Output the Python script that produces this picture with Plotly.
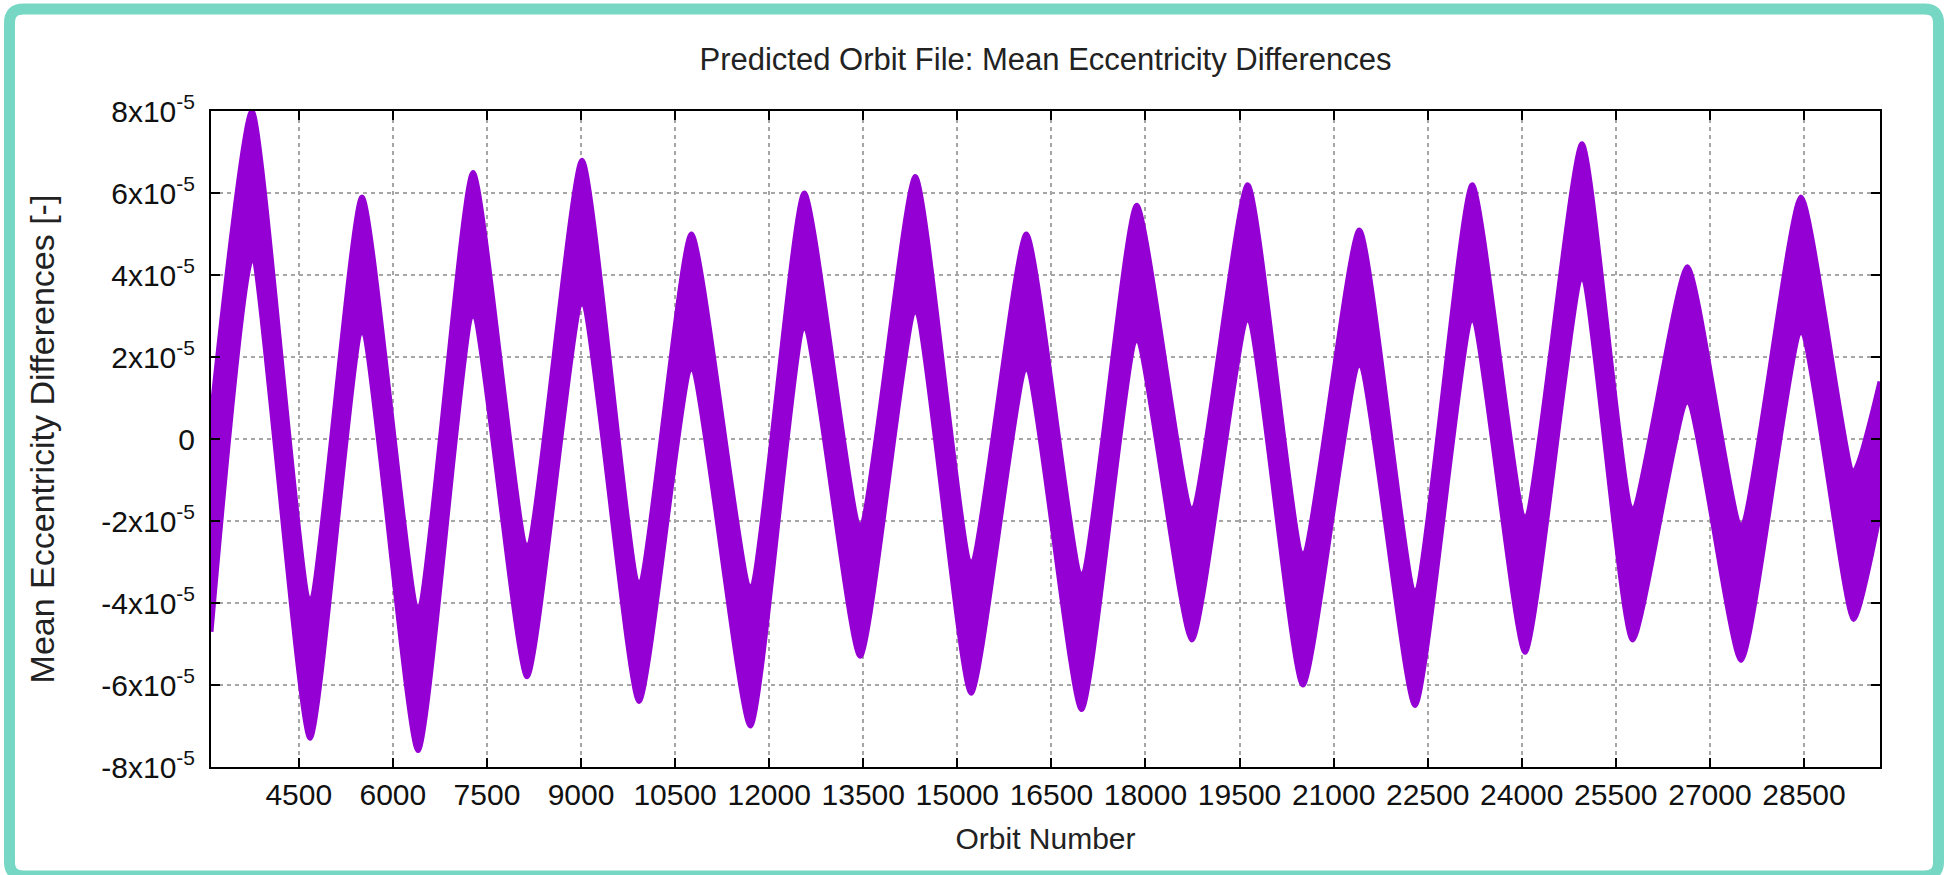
import plotly.graph_objects as go

# ---- data (orbit number, band envelopes in units of 1e-5) ----
orbit = [3100, 3754, 4679, 5508, 6401, 7278, 8139, 9016, 9925, 10760, 11700, 12560,
         13450, 14330, 15220, 16100, 16980, 17860, 18740, 19630, 20510, 21410, 22298,
         23210, 24052, 24960, 25767, 26640, 27497, 28453, 29290, 29712]
upper_e5 = [0.5, 8.0, -3.9, 5.9, -4.1, 6.5, -2.6, 6.8, -3.5, 5.0, -3.6, 6.0,
            -2.1, 6.4, -3.0, 5.0, -3.3, 5.7, -1.7, 6.2, -2.8, 5.1, -3.7,
            6.2, -1.9, 7.2, -1.7, 4.2, -2.1, 5.9, -0.8, 1.4]
lower_e5 = [-4.7, 4.4, -7.3, 2.6, -7.6, 3.0, -5.8, 3.3, -6.4, 1.7, -7.0, 2.7,
            -5.3, 3.1, -6.2, 1.7, -6.6, 2.4, -4.9, 2.9, -6.0, 1.8, -6.5,
            2.9, -5.2, 3.9, -4.9, 0.9, -5.4, 2.6, -4.4, -1.8]

x_ticks = [4500, 6000, 7500, 9000, 10500, 12000, 13500, 15000, 16500, 18000,
           19500, 21000, 22500, 24000, 25500, 27000, 28500]
y_ticks = [-8e-5, -6e-5, -4e-5, -2e-5, 0, 2e-5, 4e-5, 6e-5, 8e-5]
y_ticktext = ["-8x10<sup>-5</sup>", "-6x10<sup>-5</sup>", "-4x10<sup>-5</sup>",
              "-2x10<sup>-5</sup>", "0", "2x10<sup>-5</sup>", "4x10<sup>-5</sup>",
              "6x10<sup>-5</sup>", "8x10<sup>-5</sup>"]
x_range = [3100, 29712]
y_range = [-8e-5, 8e-5]

PURPLE = "#9400D3"
TEAL = "#76D7C4"
FONT = "Liberation Sans, Arial, sans-serif"

W, H = 1947, 875
L, R, T, B = 211, 1880, 111, 767

upper = [v * 1e-5 for v in upper_e5]
lower = [v * 1e-5 for v in lower_e5]

fig = go.Figure()
fig.add_trace(go.Scatter(x=orbit, y=lower, mode="lines",
                         line=dict(color=PURPLE, width=5, shape="spline", smoothing=0.55),
                         showlegend=False, hoverinfo="skip"))
fig.add_trace(go.Scatter(x=orbit, y=upper, mode="lines", fill="tonexty",
                         fillcolor=PURPLE,
                         line=dict(color=PURPLE, width=5, shape="spline", smoothing=0.55),
                         showlegend=False, name="Mean Eccentricity Differences"))

# teal rounded frame around the whole picture (pixel -> paper conversion)
def px(xp):
    return (xp - L) / (R - L)

def py(yp):
    return (B - yp) / (B - T)

x0, x1, y0, y1, r = 9.5, 1938.5, 9.0, 876.0, 14
path = (f"M {px(x0 + r)},{py(y0)} L {px(x1 - r)},{py(y0)} "
        f"Q {px(x1)},{py(y0)} {px(x1)},{py(y0 + r)} "
        f"L {px(x1)},{py(y1 - r)} Q {px(x1)},{py(y1)} {px(x1 - r)},{py(y1)} "
        f"L {px(x0 + r)},{py(y1)} Q {px(x0)},{py(y1)} {px(x0)},{py(y1 - r)} "
        f"L {px(x0)},{py(y0 + r)} Q {px(x0)},{py(y0)} {px(x0 + r)},{py(y0)} Z")
fig.add_shape(type="path", path=path, xref="paper", yref="paper",
              line=dict(color=TEAL, width=11), layer="above")

axis_common = dict(
    showline=True, linecolor="black", linewidth=2, mirror="ticks",
    ticks="inside", ticklen=9, tickwidth=2, tickcolor="black",
    showgrid=True, gridcolor="#a6a6a6", gridwidth=1.5, griddash="4px,4px",
    zeroline=False, tickfont=dict(family=FONT, size=30, color="#111"),
)

fig.update_layout(
    width=W, height=H,
    margin=dict(l=L, r=W - R, t=T, b=H - B, autoexpand=False),
    paper_bgcolor="white", plot_bgcolor="white",
    title=dict(text="Predicted Orbit File: Mean Eccentricity Differences",
               font=dict(family=FONT, size=31, color="#222"),
               x=(L + R) / 2 / W, xanchor="center", y=1 - 59 / H, yanchor="middle"),
    xaxis=dict(range=x_range, tickmode="array", tickvals=x_ticks,
               ticktext=[str(v) for v in x_ticks], tickangle=0,
               title=dict(text="Orbit Number", font=dict(family=FONT, size=30, color="#222"),
                          standoff=18),
               automargin=False, ticklabelstandoff=0, **axis_common),
    yaxis=dict(range=y_range, tickmode="array", tickvals=y_ticks, ticktext=y_ticktext,
               title=dict(text="Mean Eccentricity Differences [-]",
                          font=dict(family=FONT, size=34, color="#222"), standoff=36),
               automargin=False, ticklabelstandoff=8, **axis_common),
)

fig.write_html("out.html", config={"displayModeBar": False},
               post_script="document.body.style.margin='0px';document.body.style.overflow='hidden';")
